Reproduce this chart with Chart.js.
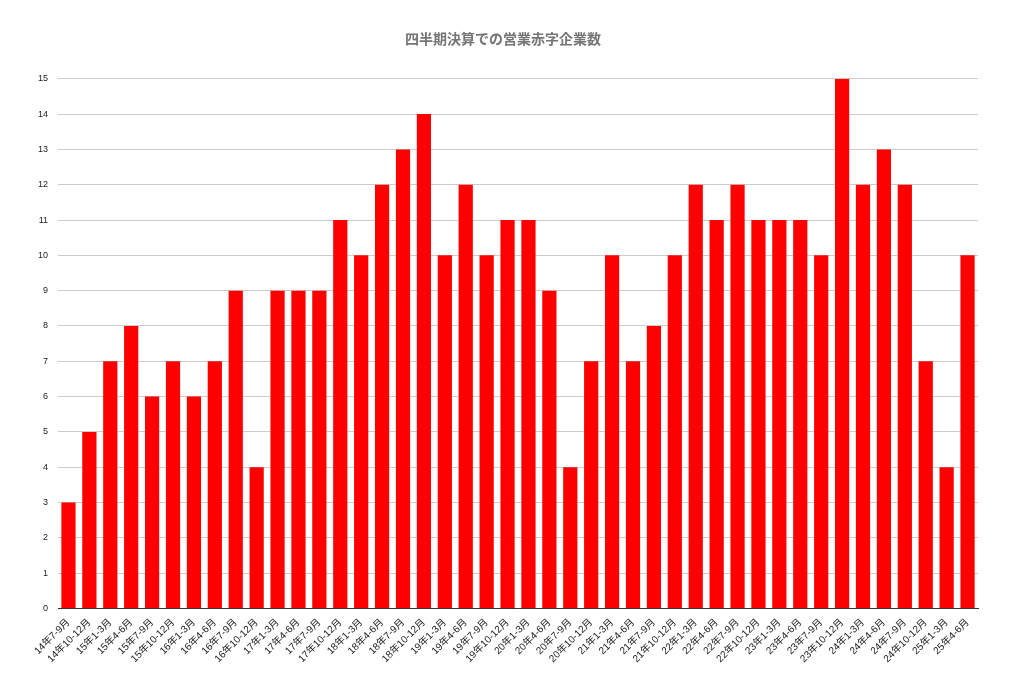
<!DOCTYPE html>
<html>
<head>
  <meta charset="UTF-8">
  <script src="https://cdn.jsdelivr.net/npm/chart.js@4.4.0/dist/chart.umd.min.js"></script>
  <style>
    html, body { margin: 0; padding: 0; background: #fff; }
    .wrap { width: 1013px; height: 687px; }
  </style>
</head>
<body>
  <div class="wrap"><canvas id="myChart"></canvas></div>
  <script>
    const labels = [
      '14年7-9月', '14年10-12月', '15年1-3月', '15年4-6月', '15年7-9月', '15年10-12月',
      '16年1-3月', '16年4-6月', '16年7-9月', '16年10-12月', '17年1-3月', '17年4-6月',
      '17年7-9月', '17年10-12月', '18年1-3月', '18年4-6月', '18年7-9月', '18年10-12月',
      '19年1-3月', '19年4-6月', '19年7-9月', '19年10-12月', '20年1-3月', '20年4-6月',
      '20年7-9月', '20年10-12月', '21年1-3月', '21年4-6月', '21年7-9月', '21年10-12月',
      '22年1-3月', '22年4-6月', '22年7-9月', '22年10-12月', '23年1-3月', '23年4-6月',
      '23年7-9月', '23年10-12月', '24年1-3月', '24年4-6月', '24年7-9月', '24年10-12月',
      '25年1-3月', '25年4-6月'
    ];
    const deficitCount = [
      3, 5, 7, 8, 6, 7, 6, 7, 9, 4, 9, 9,
      9, 11, 10, 12, 13, 14, 10, 12, 10, 11, 11, 9,
      4, 7, 10, 7, 8, 10, 12, 11, 12, 11, 11, 11,
      10, 15, 12, 13, 12, 7, 4, 10
    ];
    const titleText = '四半期決算での営業赤字企業数';

    Chart.defaults.font.family = "'Liberation Sans', 'Noto Sans CJK JP', sans-serif";
    Chart.defaults.color = '#222';

    let ctx = document.getElementById('myChart').getContext('2d');
    let chart = new Chart(ctx, {
      type: 'bar',
      data: {
        labels: labels,
        datasets: [{
          label: '営業赤字企業数',
          data: deficitCount,
          backgroundColor: '#ff0000',
          barPercentage: 0.85,
          categoryPercentage: 0.8
        }]
      },
      options: {
        responsive: true,
        maintainAspectRatio: false,
        animation: false,
        layout: { padding: { left: 28, right: 35, top: 0, bottom: 22 } },
        plugins: {
          legend: { display: false },
          tooltip: { enabled: false },
          title: {
            display: true,
            text: titleText,
            color: '#757575',
            font: { family: "'Noto Sans CJK JP', sans-serif", size: 14, weight: 'bold' },
            padding: { top: 30, bottom: 32 }
          }
        },
        scales: {
          x: {
            grid: { display: false },
            border: { color: '#333' },
            ticks: {
              minRotation: 45,
              maxRotation: 45,
              autoSkip: false,
              font: { size: 10 },
              padding: 0
            }
          },
          y: {
            min: 0,
            max: 15,
            border: { display: false },
            grid: { color: '#cccccc', drawTicks: false },
            ticks: { stepSize: 1, font: { size: 9 }, padding: 10 }
          }
        }
      }
    });
  </script>
</body>
</html>
